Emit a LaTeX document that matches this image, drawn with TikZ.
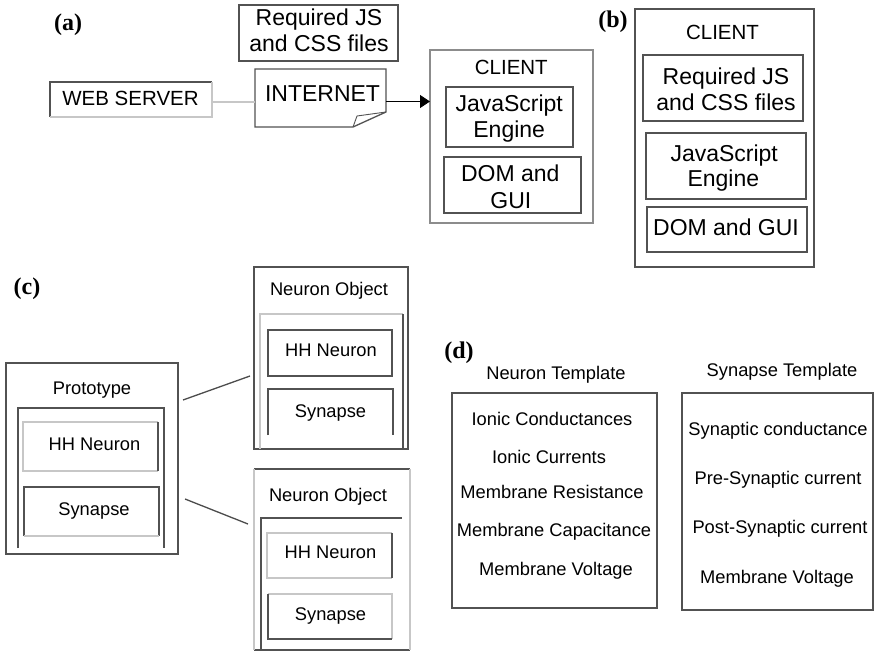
\documentclass[tikz,border=0pt]{standalone}
\usepackage{fontspec}
\setmainfont{Liberation Sans}
\newfontfamily\panelfont{Liberation Serif}
\usetikzlibrary{arrows.meta,calc}

\begin{document}
\begin{tikzpicture}[x=1pt,y=-1pt,
  frame/.style 2 args={rectangle,minimum width=#1pt,minimum height=#2pt,inner sep=0pt,outer sep=0pt},
  dk/.style={draw=black!68,line width=1.3pt},
  md/.style={draw=black!45,line width=1.2pt},
  lt/.style={draw=black!22,line width=1.1pt},
  big/.style={font=\fontsize{23}{26}\selectfont,anchor=base,inner sep=0pt},
  mid/.style={font=\fontsize{20.5}{24}\selectfont,anchor=base,inner sep=0pt},
  small/.style={font=\fontsize{18.3}{22}\selectfont,anchor=base,inner sep=0pt},
  panel/.style={font=\panelfont\bfseries\fontsize{24}{28}\selectfont,inner sep=0pt},
  link/.style={draw=black!70,line width=1.3pt}]

% canvas
\path[fill=white,use as bounding box] (0,0) rectangle (874,652);

% ---------------- (a) ----------------
\node[panel] (labA) at (68,25) {(a)};

\node[frame={159}{56},dk] (reqA) at (318.5,33) {};
\node[big] (reqA1) at (319,26) {Required JS};
\node[big] (reqA2) at (319,51.7) {and CSS files};

\node[frame={162}{35}] (web) at (131,99.5) {};
\draw[dk] (web.south west) -- (web.north west) -- (web.north east);
\draw[lt] (web.south west) -- (web.south east) -- (web.north east);
\node[mid] (webT) at (130.5,106) {WEB SERVER};

% internet document with folded corner
\node[frame={131}{58}] (inet) at (320.5,98) {};
\draw[dk] (inet.north west) -- (inet.north east) -- ($(inet.south east)+(0,-15)$)
  -- ($(inet.south east)+(-33,0)$) -- (inet.south west) -- cycle;
\draw[dk,line width=0.9pt] ($(inet.south east)+(-33,0)$) -- ($(inet.south east)+(-29,-11)$)
  -- ($(inet.south east)+(0,-15)$);
\node[big] (inetT) at (322.5,101.7) {INTERNET};

\node[frame={163}{173},md] (clientA) at (511.5,136.5) {};
\node[mid] (clientAT) at (511.3,75) {CLIENT};
\node[frame={127}{60},dk] (jsA) at (509.5,117) {};
\node[big] (jsA1) at (509.2,111.7) {JavaScript};
\node[big] (jsA2) at (509.2,137.3) {Engine};
\node[frame={137}{56},dk] (domA) at (512.5,185) {};
\node[big] (domA1) at (510.3,181.7) {DOM and};
\node[big] (domA2) at (510.8,208.3) {GUI};

\draw[lt] ([yshift=-2.5pt]web.east) -- ([yshift=-2.5pt]web.east -| inet.west);
\draw[black,line width=1pt,-{Triangle[length=10pt,width=13pt]}]
  ([yshift=-3.5pt]inet.east) -- ([yshift=-3.5pt]inet.east -| clientA.west);

% ---------------- (b) ----------------
\node[panel] (labB) at (613,22) {(b)};
\node[frame={179}{258},dk] (clientB) at (724.5,138) {};
\node[mid] (clientBT) at (722.5,39.3) {CLIENT};
\node[frame={160}{66},dk] (reqB) at (723,88) {};
\node[big] (reqB1) at (726,85) {Required JS};
\node[big] (reqB2) at (726,110.7) {and CSS files};
\node[frame={160}{66},dk] (jsB) at (726,166) {};
\node[big] (jsB1) at (724.2,161.7) {JavaScript};
\node[big] (jsB2) at (723.3,186.7) {Engine};
\node[frame={160}{45},dk] (domB) at (727,229.5) {};
\node[big] (domBT) at (726,236) {DOM and GUI};

% ---------------- (c) ----------------
\node[panel] (labC) at (27,289) {(c)};

% prototype
\node[frame={172}{191},dk] (proto) at (92,458.5) {};
\node[small] (protoT) at (92,394) {Prototype};
\node[frame={146}{140}] (protoIn) at (91,478) {};
\draw[dk] (protoIn.south west) -- (protoIn.north west) -- (protoIn.north east) -- (protoIn.south east);
\node[frame={135}{49}] (protoHH) at (90.5,446.5) {};
\draw[lt] (protoHH.north east) -- (protoHH.north west) -- (protoHH.south west) -- (protoHH.south east);
\draw[dk] (protoHH.north east) -- (protoHH.south east);
\node[small] (protoHHT) at (94.5,450) {HH Neuron};
\node[frame={135}{49}] (protoSyn) at (91.5,511.5) {};
\draw[dk] (protoSyn.south west) -- (protoSyn.north west) -- (protoSyn.north east) -- (protoSyn.south east);
\draw[lt] (protoSyn.south west) -- (protoSyn.south east);
\node[small] (protoSynT) at (94,515) {Synapse};

% first neuron object
\node[frame={154}{182},dk] (objA) at (331,358) {};
\node[small] (objAT) at (329,295) {Neuron Object};
\node[frame={143}{135}] (objAIn) at (331.5,381.5) {};
\draw[lt] (objAIn.south west) -- (objAIn.north west) -- (objAIn.north east);
\draw[dk] (objAIn.north east) -- (objAIn.south east);
\node[frame={124}{46},dk] (objAHH) at (330,353) {};
\node[small] (objAHHT) at (331,356) {HH Neuron};
\node[frame={125}{46}] (objASyn) at (330.5,412) {};
\draw[dk] (objASyn.south west) -- (objASyn.north west) -- (objASyn.north east) -- (objASyn.south east);
\node[small] (objASynT) at (330.5,417) {Synapse};

% second neuron object
\node[frame={156}{181}] (objB) at (332,559.5) {};
\draw[dk] (objB.north west) -- (objB.north east);
\draw[dk] (objB.south west) -- (objB.south east);
\draw[lt] (objB.north west) -- (objB.south west);
\draw[lt] (objB.north east) -- (objB.south east);
\node[small] (objBT) at (328,501.7) {Neuron Object};
\node[frame={141}{132}] (objBIn) at (331.5,584) {};
\draw[dk] (objBIn.south west) -- (objBIn.north west) -- (objBIn.north east);
\node[frame={125}{45}] (objBHH) at (329.5,555.5) {};
\draw[lt] (objBHH.north east) -- (objBHH.north west) -- (objBHH.south west) -- (objBHH.south east);
\draw[dk] (objBHH.north east) -- (objBHH.south east);
\node[small] (objBHHT) at (330.5,558) {HH Neuron};
\node[frame={124}{45}] (objBSyn) at (330,616.5) {};
\draw[lt] (objBSyn.north west) -- (objBSyn.north east) -- (objBSyn.south east);
\draw[dk] (objBSyn.north west) -- (objBSyn.south west) -- (objBSyn.south east);
\node[small] (objBSynT) at (330.5,620) {Synapse};

% prototype links
\draw[link] ($(proto.north east)+(5,37)$) -- ($(objA.north west)+(-4,109)$);
\draw[link] ($(proto.north east)+(7,136)$) -- ($(objB.north west)+(-6,55)$);

% ---------------- (d) ----------------
\node[panel] (labD) at (459,352.5) {(d)};

\node[small] (ntT) at (556,379) {Neuron Template};
\node[frame={205}{215},dk] (nt) at (554.5,500.5) {};
\node[small] (nt1) at (552,425) {Ionic Conductances};
\node[small] (nt2) at (549,463.6) {Ionic Currents};
\node[small] (nt3) at (552,498.6) {Membrane Resistance};
\node[small] (nt4) at (554,536.6) {Membrane Capacitance};
\node[small] (nt5) at (556,575) {Membrane Voltage};

\node[small] (stT) at (782,376) {Synapse Template};
\node[frame={191}{217},dk] (st) at (777.5,501.5) {};
\node[small] (st1) at (778,435) {Synaptic conductance};
\node[small] (st2) at (778,484) {Pre-Synaptic current};
\node[small] (st3) at (780,533) {Post-Synaptic current};
\node[small] (st4) at (777,583) {Membrane Voltage};
\end{tikzpicture}
\end{document}
